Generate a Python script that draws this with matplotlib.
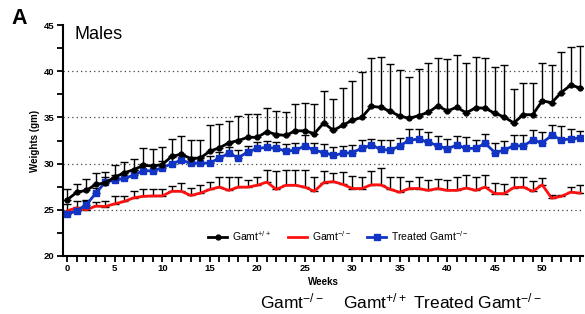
import matplotlib
matplotlib.use('Agg')
import matplotlib.pyplot as plt
from matplotlib.ticker import MultipleLocator
import numpy as np

plt.rcParams['font.family'] = ['Liberation Sans', 'DejaVu Sans']
plt.rcParams['mathtext.fontset'] = 'custom'
plt.rcParams['mathtext.rm'] = 'Liberation Sans'
plt.rcParams['mathtext.default'] = 'regular'

weeks = list(range(55))

# Gamt+/+ (wild type)
wt_mean = [26.1, 26.9, 27.1, 27.75, 27.9, 28.55, 29.0, 29.35, 29.8, 29.75,
           29.9, 30.8, 31.0, 30.55, 30.6, 31.35, 31.7, 32.25, 32.5, 32.85,
           32.85, 33.45, 33.15, 33.05, 33.55, 33.55, 33.25, 34.4, 33.6, 34.15,
           34.7, 35.0, 36.2, 36.1, 35.65, 35.15, 34.9, 35.2, 35.55, 36.25,
           35.7, 36.1, 35.5, 36.05, 36.0, 35.45, 35.05, 34.4, 35.3, 35.3,
           36.8, 36.6, 37.7, 38.5, 38.2]
wt_err = [1.1, 0.9, 1.2, 1.25, 1.2, 1.25, 1.2, 1.15, 1.9, 1.85,
          1.9, 1.9, 2.0, 2.0, 2.0, 2.85, 2.6, 2.35, 2.65, 2.55,
          2.5, 2.55, 2.6, 2.5, 2.95, 3.05, 3.25, 3.5, 3.4, 4.05,
          4.2, 4.9, 5.2, 5.4, 5.1, 4.95, 4.5, 5.0, 5.3, 5.15,
          5.6, 5.7, 5.45, 5.55, 5.4, 5.05, 5.6, 3.7, 3.4, 3.45,
          4.15, 4.05, 4.4, 4.1, 4.5]

# Gamt-/-
ko_mean = [24.9, 25.2, 25.0, 25.4, 25.35, 25.65, 25.9, 26.3, 26.45, 26.5,
           26.5, 27.0, 27.0, 26.55, 26.8, 27.2, 27.45, 27.1, 27.45, 27.45,
           27.65, 28.0, 27.2, 27.65, 27.65, 27.45, 27.0, 27.95, 28.05, 27.75,
           27.3, 27.3, 27.7, 27.7, 27.2, 26.9, 27.3, 27.3, 27.1, 27.3,
           27.1, 27.1, 27.35, 27.1, 27.45, 26.75, 26.75, 27.4, 27.45, 27.0,
           27.7, 26.25, 26.45, 26.9, 26.8]
ko_err = [0.7, 0.75, 1.0, 0.45, 0.6, 0.8, 0.55, 0.7, 0.75, 0.75,
          0.75, 0.6, 0.9, 0.85, 0.9, 0.8, 1.05, 1.4, 1.05, 0.75,
          0.9, 1.3, 2.0, 1.7, 1.65, 1.85, 1.5, 1.2, 0.95, 1.35,
          1.35, 1.25, 1.5, 1.8, 1.35, 1.6, 0.8, 1.25, 1.1, 1.05,
          1.1, 1.4, 1.4, 1.4, 1.3, 1.15, 1.0, 1.15, 1.1, 1.1,
          0.75, 0.4, 0.1, 0.55, 0.9]

# Treated Gamt-/-
tr_mean = [24.5, 24.9, 25.55, 26.8, 28.0, 28.2, 28.4, 28.75, 29.25, 29.2,
           29.55, 30.0, 30.35, 30.05, 30.05, 30.05, 30.6, 31.1, 30.65, 31.25,
           31.65, 31.75, 31.65, 31.35, 31.45, 31.9, 31.45, 31.2, 30.9, 31.1,
           31.2, 31.65, 32.0, 31.55, 31.45, 31.9, 32.55, 32.65, 32.3, 31.95,
           31.6, 32.0, 31.65, 31.65, 32.2, 31.2, 31.45, 31.95, 31.9, 32.55,
           32.25, 33.05, 32.6, 32.65, 32.8]
tr_err = [0.4, 0.45, 0.5, 0.6, 0.6, 0.6, 0.6, 0.6, 0.7, 0.7,
          0.7, 0.7, 0.7, 0.7, 0.7, 0.8, 0.7, 0.7, 0.8, 0.7,
          0.7, 0.7, 0.7, 0.8, 0.8, 1.2, 0.8, 0.9, 0.85, 0.85,
          0.85, 0.95, 0.7, 1.0, 1.15, 0.9, 1.15, 1.05, 1.15, 1.05,
          1.1, 1.0, 1.25, 0.95, 1.0, 1.05, 0.95, 1.15, 1.2, 1.1,
          1.15, 1.1, 1.45, 1.05, 0.75]

grid_levels = [25, 30, 35, 40]
blue = '#1234c4'

fig = plt.figure(figsize=(5.85, 3.14), dpi=100)
ax = fig.add_axes([0.1077, 0.185, 0.889, 0.735])

for y in grid_levels:
    ax.axhline(y, color='#444444', ls=(0, (1, 2.5)), lw=0.9, zorder=0)

def series(mean, err, color, marker, ms, label):
    lo = np.zeros(len(err))
    ax.errorbar(weeks, mean, yerr=[lo, err], fmt='none', ecolor='black',
                elinewidth=1.0, capsize=3, capthick=1.0, zorder=2)
    ax.plot(weeks, mean, color=color, lw=2, marker=marker, ms=ms,
            label=label, zorder=3)

series(ko_mean, ko_err, '#ff1010', None, 0, 'Gamt$^{-/-}$')
series(tr_mean, tr_err, blue, 's', 4.5, 'Treated Gamt$^{-/-}$')
series(wt_mean, wt_err, 'black', 'o', 3.5, 'Gamt$^{+/+}$')

ax.set_xlim(-0.46, 54.3)
ax.set_ylim(20, 45)
ax.xaxis.set_major_locator(MultipleLocator(5))
ax.xaxis.set_minor_locator(MultipleLocator(1))
ax.yaxis.set_major_locator(MultipleLocator(5))
ax.yaxis.set_minor_locator(MultipleLocator(2.5))
ax.tick_params(which='both', direction='out', length=4, width=1.3)
ax.tick_params(axis='both', labelsize=6.8, pad=2)
for lab in ax.get_xticklabels() + ax.get_yticklabels():
    lab.set_fontweight('bold')

for s in ['top', 'right']:
    ax.spines[s].set_visible(False)
for s in ['left', 'bottom']:
    ax.spines[s].set_linewidth(1.5)

ax.set_xlabel('Weeks', fontsize=7, fontweight='bold', labelpad=3)
ax.set_ylabel('Weights (gm)', fontsize=7, fontweight='bold', labelpad=3)

handles, labels = ax.get_legend_handles_labels()
order = [2, 0, 1]
ax.legend([handles[i] for i in order], [labels[i] for i in order],
          loc='center', bbox_to_anchor=(0.53, 0.087), ncol=3, frameon=False,
          fontsize=7.5, handlelength=1.8, columnspacing=1.6, handletextpad=0.5)

ax.text(0.022, 0.995, 'Males', transform=ax.transAxes, fontsize=13,
        va='top', ha='left')
fig.text(0.02, 0.975, 'A', fontsize=15.5, fontweight='bold', va='top')

fig.text(260 / 585, 0.018, 'Gamt$^{-/-}$', fontsize=12.5, va='baseline')
fig.text(343 / 585, 0.018, 'Gamt$^{+/+}$', fontsize=12.5, va='baseline')
fig.text(413 / 585, 0.018, 'Treated Gamt$^{-/-}$', fontsize=12.5, va='baseline')

fig.savefig('out.png', dpi=100)
